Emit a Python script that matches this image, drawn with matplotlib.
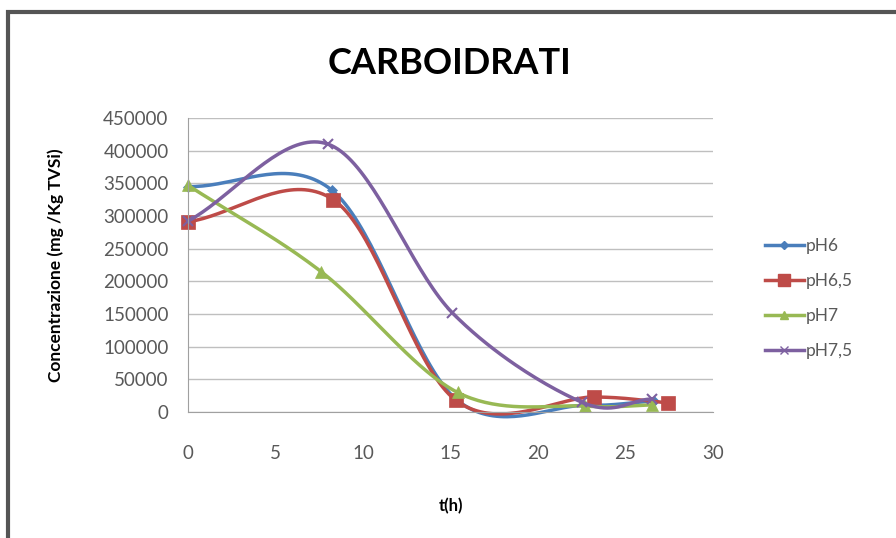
import matplotlib.pyplot as plt
import numpy as np
from matplotlib.patches import Rectangle

# dati
t_ph6 = [0, 8.2, 15.3, 22.6, 26.6]
c_ph6 = [345000, 340000, 20000, 10000, 17000]

t_ph65 = [0, 8.3, 15.3, 23.2, 27.4]
c_ph65 = [291000, 325000, 18000, 23000, 14000]

t_ph7 = [0, 7.6, 15.4, 22.7, 26.5]
c_ph7 = [347000, 215000, 30000, 9000, 11000]

t_ph75 = [0, 8.0, 15.1, 22.5, 26.5]
c_ph75 = [292000, 410000, 152000, 15000, 20000]

labels = ["pH6", "pH6,5", "pH7", "pH7,5"]
colors = ["#4a7ebb", "#be4b48", "#98b954", "#7d60a0"]
markers = ["D", "s", "^", "x"]
msizes = [5, 10, 8, 7]


def smooth(x, y, n=40):
    # curva tipo Excel (Catmull-Rom) tra i punti
    x = np.asarray(x, float)
    y = np.asarray(y, float)
    px = np.concatenate([[2 * x[0] - x[1]], x, [2 * x[-1] - x[-2]]])
    py = np.concatenate([[2 * y[0] - y[1]], y, [2 * y[-1] - y[-2]]])
    xs, ys = [], []
    s = np.linspace(0, 1, n)
    for i in range(1, len(px) - 2):
        for p, out in ((px, xs), (py, ys)):
            p0, p1, p2, p3 = p[i - 1], p[i], p[i + 1], p[i + 2]
            out.extend(0.5 * ((2 * p1) + (-p0 + p2) * s
                              + (2 * p0 - 5 * p1 + 4 * p2 - p3) * s ** 2
                              + (-p0 + 3 * p1 - 3 * p2 + p3) * s ** 3))
    return xs, ys


fig = plt.figure(figsize=(8.96, 5.38), dpi=100)
plt.rcParams['font.family'] = ['Lato', 'DejaVu Sans']

# cornice esterna
fig.patches.append(Rectangle((8 / 896, -0.05), 1.0, 1 - 12 / 538 + 0.05,
                             transform=fig.transFigure, fill=False,
                             edgecolor="#555555", linewidth=3))

ax = fig.add_axes([188 / 896, 1 - 412 / 538, (713 - 188) / 896, (412 - 118) / 538])

series = [(t_ph6, c_ph6), (t_ph65, c_ph65), (t_ph7, c_ph7), (t_ph75, c_ph75)]
for (t, c), lab, col, m, ms in zip(series, labels, colors, markers, msizes):
    xs, ys = smooth(t, c)
    ax.plot(xs, ys, color=col, linewidth=2.5, clip_on=False)
    ax.plot(t, c, linestyle="none", marker=m, color=col, markersize=ms,
            markeredgewidth=1.5 if m == "x" else 0.5, clip_on=False)
    ax.plot([], [], color=col, linewidth=2.5, marker=m, markersize=ms * 0.8,
            label=lab)

ax.set_xlim(0, 30)
ax.set_ylim(0, 450000)
ax.set_xticks(np.arange(0, 31, 5))
ax.set_yticks(np.arange(0, 450001, 50000))
ax.grid(axis='y', color="#bfbfbf", linewidth=1)
ax.set_axisbelow(True)
for s in ["top", "right"]:
    ax.spines[s].set_visible(False)
for s in ["left", "bottom"]:
    ax.spines[s].set_color("#a0a0a0")
ax.tick_params(length=0, labelsize=13.5, labelcolor="#595959")
ax.tick_params(axis='x', pad=24)
ax.tick_params(axis='y', pad=14)

ax.set_xlabel("t(h)", fontsize=12, fontweight="bold", labelpad=26)
ax.set_ylabel("Concentrazione (mg /Kg TVSi)", fontsize=12.5, fontweight="bold",
              labelpad=28)
fig.text(0.502, 1 - 64 / 538, "CARBOIDRATI", ha="center", va="center",
         fontsize=26, fontweight="bold")

ax.legend(loc="center left", bbox_to_anchor=(1.07, 0.385), frameon=False,
          fontsize=12.5, labelspacing=1.1, handlelength=2.2, handletextpad=0.15,
          labelcolor="#595959")

plt.savefig("out.png", dpi=100)
